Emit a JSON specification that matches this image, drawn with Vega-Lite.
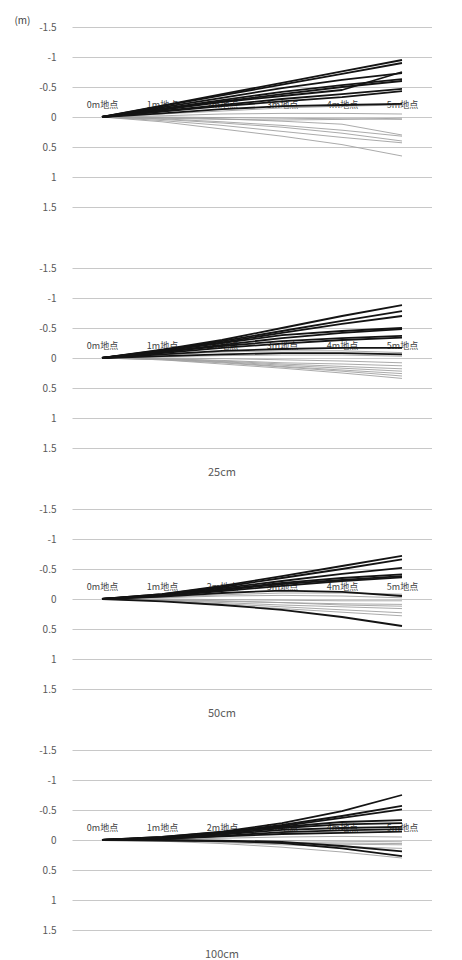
{
  "$schema": "https://vega.github.io/schema/vega-lite/v6.json",
  "background": "white",
  "padding": {"left": 13, "top": 15, "right": 0, "bottom": 0},
  "bounds": "flush",
  "spacing": 61,
  "datasets": {
    "lines": [
      {"p": "a", "id": "a10", "t": "light", "0m地点": 0, "1m地点": -0.05, "2m地点": -0.1, "3m地点": -0.15, "4m地点": -0.18, "5m地点": -0.2},
      {"p": "a", "id": "a11", "t": "light", "0m地点": 0, "1m地点": -0.02, "2m地点": -0.05, "3m地点": -0.06, "4m地点": -0.06, "5m地点": -0.05},
      {"p": "a", "id": "a12", "t": "light", "0m地点": 0, "1m地点": 0, "2m地点": 0.01, "3m地点": 0.02, "4m地点": 0.03, "5m地点": 0.04},
      {"p": "a", "id": "a13", "t": "light", "0m地点": 0, "1m地点": 0.02, "2m地点": 0.04, "3m地点": 0.05, "4m地点": 0.04, "5m地点": 0.02},
      {"p": "a", "id": "a14", "t": "light", "0m地点": 0, "1m地点": 0.03, "2m地点": 0.08, "3m地点": 0.14, "4m地点": 0.22, "5m地点": 0.32},
      {"p": "a", "id": "a15", "t": "light", "0m地点": 0, "1m地点": 0.04, "2m地点": 0.1, "3m地点": 0.17, "4m地点": 0.27, "5m地点": 0.4},
      {"p": "a", "id": "a16", "t": "light", "0m地点": 0, "1m地点": 0.06, "2m地点": 0.14, "3m地点": 0.24, "4m地点": 0.34, "5m地点": 0.43},
      {"p": "a", "id": "a17", "t": "light", "0m地点": 0, "1m地点": 0.08, "2m地点": 0.2, "3m地点": 0.32, "4m地点": 0.46, "5m地点": 0.65},
      {"p": "a", "id": "a18", "t": "light", "0m地点": 0, "1m地点": 0.01, "2m地点": 0.03, "3m地点": 0.07, "4m地点": 0.12, "5m地点": 0.3},
      {"p": "a", "id": "a1", "t": "dark", "0m地点": 0, "1m地点": -0.19, "2m地点": -0.38, "3m地点": -0.57, "4m地点": -0.76, "5m地点": -0.95},
      {"p": "a", "id": "a2", "t": "dark", "0m地点": 0, "1m地点": -0.18, "2m地点": -0.36, "3m地点": -0.54, "4m地点": -0.72, "5m地点": -0.9},
      {"p": "a", "id": "a3", "t": "dark", "0m地点": 0, "1m地点": -0.16, "2m地点": -0.32, "3m地点": -0.48, "4m地点": -0.62, "5m地点": -0.73},
      {"p": "a", "id": "a4", "t": "dark", "0m地点": 0, "1m地点": -0.12, "2m地点": -0.25, "3m地点": -0.35, "4m地点": -0.45, "5m地点": -0.75},
      {"p": "a", "id": "a5", "t": "dark", "0m地点": 0, "1m地点": -0.14, "2m地点": -0.28, "3m地点": -0.42, "4m地点": -0.53, "5m地点": -0.63},
      {"p": "a", "id": "a6", "t": "dark", "0m地点": 0, "1m地点": -0.13, "2m地点": -0.26, "3m地点": -0.38, "4m地点": -0.5, "5m地点": -0.6},
      {"p": "a", "id": "a7", "t": "dark", "0m地点": 0, "1m地点": -0.1, "2m地点": -0.2, "3m地点": -0.3, "4m地点": -0.38, "5m地点": -0.47},
      {"p": "a", "id": "a8", "t": "dark", "0m地点": 0, "1m地点": -0.09, "2m地点": -0.18, "3m地点": -0.26, "4m地点": -0.33, "5m地点": -0.43},
      {"p": "a", "id": "a9", "t": "dark", "0m地点": 0, "1m地点": -0.06, "2m地点": -0.13, "3m地点": -0.18, "4m地点": -0.2, "5m地点": -0.22},

      {"p": "b", "id": "b10", "t": "light", "0m地点": 0, "1m地点": -0.05, "2m地点": -0.1, "3m地点": -0.12, "4m地点": -0.12, "5m地点": -0.09},
      {"p": "b", "id": "b11", "t": "light", "0m地点": 0, "1m地点": -0.02, "2m地点": -0.04, "3m地点": -0.05, "4m地点": -0.05, "5m地点": -0.03},
      {"p": "b", "id": "b12", "t": "light", "0m地点": 0, "1m地点": 0, "2m地点": 0.01, "3m地点": 0.03, "4m地点": 0.05, "5m地点": 0.08},
      {"p": "b", "id": "b13", "t": "light", "0m地点": 0, "1m地点": 0.01, "2m地点": 0.04, "3m地点": 0.08, "4m地点": 0.1, "5m地点": 0.13},
      {"p": "b", "id": "b14", "t": "light", "0m地点": 0, "1m地点": 0.02, "2m地点": 0.06, "3m地点": 0.12, "4m地点": 0.17, "5m地点": 0.22},
      {"p": "b", "id": "b15", "t": "light", "0m地点": 0, "1m地点": 0.03, "2m地点": 0.08, "3m地点": 0.15, "4m地点": 0.22, "5m地点": 0.3},
      {"p": "b", "id": "b16", "t": "light", "0m地点": 0, "1m地点": 0.03, "2m地点": 0.1, "3m地点": 0.17, "4m地点": 0.25, "5m地点": 0.34},
      {"p": "b", "id": "b17", "t": "light", "0m地点": 0, "1m地点": 0.02, "2m地点": 0.07, "3m地点": 0.14, "4m地点": 0.2, "5m地点": 0.26},
      {"p": "b", "id": "b18", "t": "light", "0m地点": 0, "1m地点": 0.01, "2m地点": 0.05, "3m地点": 0.1, "4m地点": 0.14, "5m地点": 0.18},
      {"p": "b", "id": "b1", "t": "dark", "0m地点": 0, "1m地点": -0.14, "2m地点": -0.3, "3m地点": -0.5, "4m地点": -0.7, "5m地点": -0.88},
      {"p": "b", "id": "b2", "t": "dark", "0m地点": 0, "1m地点": -0.13, "2m地点": -0.28, "3m地点": -0.45, "4m地点": -0.62, "5m地点": -0.78},
      {"p": "b", "id": "b3", "t": "dark", "0m地点": 0, "1m地点": -0.12, "2m地点": -0.26, "3m地点": -0.42, "4m地点": -0.57, "5m地点": -0.7},
      {"p": "b", "id": "b4", "t": "dark", "0m地点": 0, "1m地点": -0.12, "2m地点": -0.25, "3m地点": -0.38, "4m地点": -0.45, "5m地点": -0.5},
      {"p": "b", "id": "b5", "t": "dark", "0m地点": 0, "1m地点": -0.1, "2m地点": -0.22, "3m地点": -0.33, "4m地点": -0.42, "5m地点": -0.48},
      {"p": "b", "id": "b6", "t": "dark", "0m地点": 0, "1m地点": -0.1, "2m地点": -0.2, "3m地点": -0.28, "4m地点": -0.33, "5m地点": -0.37},
      {"p": "b", "id": "b7", "t": "dark", "0m地点": 0, "1m地点": -0.08, "2m地点": -0.17, "3m地点": -0.24, "4m地点": -0.3, "5m地点": -0.34},
      {"p": "b", "id": "b8", "t": "dark", "0m地点": 0, "1m地点": -0.06, "2m地点": -0.12, "3m地点": -0.15, "4m地点": -0.17, "5m地点": -0.17},
      {"p": "b", "id": "b9", "t": "dark", "0m地点": 0, "1m地点": -0.03, "2m地点": -0.06, "3m地点": -0.08, "4m地点": -0.08, "5m地点": -0.06},

      {"p": "c", "id": "c10", "t": "light", "0m地点": 0, "1m地点": -0.02, "2m地点": -0.05, "3m地点": -0.06, "4m地点": -0.05, "5m地点": -0.02},
      {"p": "c", "id": "c11", "t": "light", "0m地点": 0, "1m地点": 0, "2m地点": 0.01, "3m地点": 0.02, "4m地点": 0.03, "5m地点": 0.03},
      {"p": "c", "id": "c12", "t": "light", "0m地点": 0, "1m地点": 0.02, "2m地点": 0.04, "3m地点": 0.06, "4m地点": 0.08, "5m地点": 0.09},
      {"p": "c", "id": "c13", "t": "light", "0m地点": 0, "1m地点": 0.02, "2m地点": 0.06, "3m地点": 0.1, "4m地点": 0.13, "5m地点": 0.16},
      {"p": "c", "id": "c14", "t": "light", "0m地点": 0, "1m地点": 0.03, "2m地点": 0.08, "3m地点": 0.13, "4m地点": 0.18, "5m地点": 0.23},
      {"p": "c", "id": "c15", "t": "light", "0m地点": 0, "1m地点": 0.03, "2m地点": 0.1, "3m地点": 0.16, "4m地点": 0.22, "5m地点": 0.28},
      {"p": "c", "id": "c16", "t": "light", "0m地点": 0, "1m地点": 0.01, "2m地点": 0.03, "3m地点": 0.06, "4m地点": 0.1, "5m地点": 0.12},
      {"p": "c", "id": "c17", "t": "light", "0m地点": 0, "1m地点": -0.03, "2m地点": -0.07, "3m地点": -0.1, "4m地点": -0.1, "5m地点": -0.08},
      {"p": "c", "id": "c1", "t": "dark", "0m地点": 0, "1m地点": -0.08, "2m地点": -0.22, "3m地点": -0.38, "4m地点": -0.55, "5m地点": -0.72},
      {"p": "c", "id": "c2", "t": "dark", "0m地点": 0, "1m地点": -0.08, "2m地点": -0.2, "3m地点": -0.35, "4m地点": -0.5, "5m地点": -0.66},
      {"p": "c", "id": "c3", "t": "dark", "0m地点": 0, "1m地点": -0.07, "2m地点": -0.18, "3m地点": -0.3, "4m地点": -0.42, "5m地点": -0.52},
      {"p": "c", "id": "c4", "t": "dark", "0m地点": 0, "1m地点": -0.06, "2m地点": -0.16, "3m地点": -0.27, "4m地点": -0.35, "5m地点": -0.41},
      {"p": "c", "id": "c5", "t": "dark", "0m地点": 0, "1m地点": -0.06, "2m地点": -0.15, "3m地点": -0.25, "4m地点": -0.32, "5m地点": -0.38},
      {"p": "c", "id": "c6", "t": "dark", "0m地点": 0, "1m地点": -0.05, "2m地点": -0.13, "3m地点": -0.22, "4m地点": -0.3, "5m地点": -0.36},
      {"p": "c", "id": "c7", "t": "dark", "0m地点": 0, "1m地点": -0.04, "2m地点": -0.1, "3m地点": -0.14, "4m地点": -0.12, "5m地点": -0.05},
      {"p": "c", "id": "c8", "t": "dark", "0m地点": 0, "1m地点": 0.04, "2m地点": 0.1, "3m地点": 0.18, "4m地点": 0.3, "5m地点": 0.45},

      {"p": "d", "id": "d11", "t": "light", "0m地点": 0, "1m地点": 0, "2m地点": 0.01, "3m地点": 0.01, "4m地点": 0.02, "5m地点": 0.03},
      {"p": "d", "id": "d12", "t": "light", "0m地点": 0, "1m地点": 0.01, "2m地点": 0.03, "3m地点": 0.05, "4m地点": 0.07, "5m地点": 0.08},
      {"p": "d", "id": "d13", "t": "light", "0m地点": 0, "1m地点": 0.01, "2m地点": 0.04, "3m地点": 0.08, "4m地点": 0.11, "5m地点": 0.14},
      {"p": "d", "id": "d14", "t": "light", "0m地点": 0, "1m地点": 0.02, "2m地点": 0.06, "3m地点": 0.12, "4m地点": 0.2, "5m地点": 0.3},
      {"p": "d", "id": "d15", "t": "light", "0m地点": 0, "1m地点": -0.01, "2m地点": -0.03, "3m地点": -0.05, "4m地点": -0.06, "5m地点": -0.05},
      {"p": "d", "id": "d16", "t": "light", "0m地点": 0, "1m地点": 0.01, "2m地点": 0.02, "3m地点": 0.04, "4m地点": 0.05, "5m地点": 0.06},
      {"p": "d", "id": "d1", "t": "dark", "0m地点": 0, "1m地点": -0.05, "2m地点": -0.14, "3m地点": -0.28, "4m地点": -0.48, "5m地点": -0.75},
      {"p": "d", "id": "d2", "t": "dark", "0m地点": 0, "1m地点": -0.05, "2m地点": -0.13, "3m地点": -0.25, "4m地点": -0.4, "5m地点": -0.57},
      {"p": "d", "id": "d3", "t": "dark", "0m地点": 0, "1m地点": -0.04, "2m地点": -0.12, "3m地点": -0.23, "4m地点": -0.37, "5m地点": -0.51},
      {"p": "d", "id": "d4", "t": "dark", "0m地点": 0, "1m地点": -0.04, "2m地点": -0.12, "3m地点": -0.22, "4m地点": -0.3, "5m地点": -0.33},
      {"p": "d", "id": "d5", "t": "dark", "0m地点": 0, "1m地点": -0.03, "2m地点": -0.1, "3m地点": -0.2, "4m地点": -0.26, "5m地点": -0.28},
      {"p": "d", "id": "d6", "t": "dark", "0m地点": 0, "1m地点": -0.03, "2m地点": -0.09, "3m地点": -0.17, "4m地点": -0.2, "5m地点": -0.22},
      {"p": "d", "id": "d7", "t": "dark", "0m地点": 0, "1m地点": -0.02, "2m地点": -0.07, "3m地点": -0.13, "4m地点": -0.16, "5m地点": -0.18},
      {"p": "d", "id": "d8", "t": "dark", "0m地点": 0, "1m地点": -0.02, "2m地点": -0.06, "3m地点": -0.1, "4m地点": -0.12, "5m地点": -0.14},
      {"p": "d", "id": "d9", "t": "dark", "0m地点": 0, "1m地点": 0, "2m地点": 0.01, "3m地点": 0.03, "4m地点": 0.1, "5m地点": 0.19},
      {"p": "d", "id": "d10", "t": "dark", "0m地点": 0, "1m地点": 0.01, "2m地点": 0.02, "3m地点": 0.05, "4m地点": 0.14, "5m地点": 0.27}
    ]
  },
  "vconcat": [
    {
      "width": 360, "height": 180,
      "data": {"name": "lines"},
      "transform": [{"filter": "datum.p === 'a'"}, {"fold": ["0m地点", "1m地点", "2m地点", "3m地点", "4m地点", "5m地点"], "as": ["pos", "v"]}],
      "mark": {"type": "line", "strokeJoin": "round"},
      "encoding": {
        "x": {"field": "pos", "type": "nominal", "sort": ["0m地点", "1m地点", "2m地点", "3m地点", "4m地点", "5m地点"], "scale": {"type": "point", "padding": 0.5},
          "axis": {"orient": "top", "offset": -90, "title": null, "domain": false, "ticks": false, "tickSize": 0, "labelPadding": 8, "labelAngle": 0, "labelFontSize": 9, "labelColor": "#404040", "labelOverlap": false, "grid": false}},
        "y": {"field": "v", "type": "quantitative", "scale": {"domain": [-1.5, 1.5], "reverse": true, "nice": false, "zero": false},
          "axis": {"values": [-1.5, -1, -0.5, 0, 0.5, 1, 1.5], "labelExpr": "'' + datum.value", "title": "(m)", "titleAngle": 0, "titleX": -50, "titleY": -7, "titleAlign": "center", "titleBaseline": "middle", "titleFontSize": 10, "titleFontWeight": "normal", "titleColor": "#404040"}},
        "color": {"field": "t", "type": "nominal", "scale": {"domain": ["light", "dark"], "range": ["#a0a0a0", "#141414"]}, "legend": null},
        "strokeWidth": {"field": "t", "type": "nominal", "scale": {"domain": ["light", "dark"], "range": [0.9, 1.8]}, "legend": null},
        "detail": {"field": "id", "type": "nominal"}
      }
    },
    {
      "width": 360, "height": 180,
      "title": {"text": "25cm", "orient": "bottom", "anchor": "middle", "dx": -30, "offset": 14},
      "data": {"name": "lines"},
      "transform": [{"filter": "datum.p === 'b'"}, {"fold": ["0m地点", "1m地点", "2m地点", "3m地点", "4m地点", "5m地点"], "as": ["pos", "v"]}],
      "mark": {"type": "line", "strokeJoin": "round"},
      "encoding": {
        "x": {"field": "pos", "type": "nominal", "sort": ["0m地点", "1m地点", "2m地点", "3m地点", "4m地点", "5m地点"], "scale": {"type": "point", "padding": 0.5},
          "axis": {"orient": "top", "offset": -90, "title": null, "domain": false, "ticks": false, "tickSize": 0, "labelPadding": 8, "labelAngle": 0, "labelFontSize": 9, "labelColor": "#404040", "labelOverlap": false, "grid": false}},
        "y": {"field": "v", "type": "quantitative", "scale": {"domain": [-1.5, 1.5], "reverse": true, "nice": false, "zero": false},
          "axis": {"values": [-1.5, -1, -0.5, 0, 0.5, 1, 1.5], "labelExpr": "'' + datum.value", "title": null}},
        "color": {"field": "t", "type": "nominal", "scale": {"domain": ["light", "dark"], "range": ["#a0a0a0", "#141414"]}, "legend": null},
        "strokeWidth": {"field": "t", "type": "nominal", "scale": {"domain": ["light", "dark"], "range": [0.9, 1.8]}, "legend": null},
        "detail": {"field": "id", "type": "nominal"}
      }
    },
    {
      "width": 360, "height": 180,
      "title": {"text": "50cm", "orient": "bottom", "anchor": "middle", "dx": -30, "offset": 14},
      "data": {"name": "lines"},
      "transform": [{"filter": "datum.p === 'c'"}, {"fold": ["0m地点", "1m地点", "2m地点", "3m地点", "4m地点", "5m地点"], "as": ["pos", "v"]}],
      "mark": {"type": "line", "strokeJoin": "round"},
      "encoding": {
        "x": {"field": "pos", "type": "nominal", "sort": ["0m地点", "1m地点", "2m地点", "3m地点", "4m地点", "5m地点"], "scale": {"type": "point", "padding": 0.5},
          "axis": {"orient": "top", "offset": -90, "title": null, "domain": false, "ticks": false, "tickSize": 0, "labelPadding": 8, "labelAngle": 0, "labelFontSize": 9, "labelColor": "#404040", "labelOverlap": false, "grid": false}},
        "y": {"field": "v", "type": "quantitative", "scale": {"domain": [-1.5, 1.5], "reverse": true, "nice": false, "zero": false},
          "axis": {"values": [-1.5, -1, -0.5, 0, 0.5, 1, 1.5], "labelExpr": "'' + datum.value", "title": null}},
        "color": {"field": "t", "type": "nominal", "scale": {"domain": ["light", "dark"], "range": ["#a0a0a0", "#141414"]}, "legend": null},
        "strokeWidth": {"field": "t", "type": "nominal", "scale": {"domain": ["light", "dark"], "range": [0.9, 1.8]}, "legend": null},
        "detail": {"field": "id", "type": "nominal"}
      }
    },
    {
      "width": 360, "height": 180,
      "title": {"text": "100cm", "orient": "bottom", "anchor": "middle", "dx": -30, "offset": 14},
      "data": {"name": "lines"},
      "transform": [{"filter": "datum.p === 'd'"}, {"fold": ["0m地点", "1m地点", "2m地点", "3m地点", "4m地点", "5m地点"], "as": ["pos", "v"]}],
      "mark": {"type": "line", "strokeJoin": "round"},
      "encoding": {
        "x": {"field": "pos", "type": "nominal", "sort": ["0m地点", "1m地点", "2m地点", "3m地点", "4m地点", "5m地点"], "scale": {"type": "point", "padding": 0.5},
          "axis": {"orient": "top", "offset": -90, "title": null, "domain": false, "ticks": false, "tickSize": 0, "labelPadding": 8, "labelAngle": 0, "labelFontSize": 9, "labelColor": "#404040", "labelOverlap": false, "grid": false}},
        "y": {"field": "v", "type": "quantitative", "scale": {"domain": [-1.5, 1.5], "reverse": true, "nice": false, "zero": false},
          "axis": {"values": [-1.5, -1, -0.5, 0, 0.5, 1, 1.5], "labelExpr": "'' + datum.value", "title": null}},
        "color": {"field": "t", "type": "nominal", "scale": {"domain": ["light", "dark"], "range": ["#a0a0a0", "#141414"]}, "legend": null},
        "strokeWidth": {"field": "t", "type": "nominal", "scale": {"domain": ["light", "dark"], "range": [0.9, 1.8]}, "legend": null},
        "detail": {"field": "id", "type": "nominal"}
      }
    }
  ],
  "resolve": {"scale": {"color": "shared", "strokeWidth": "shared"}},
  "config": {
    "view": {"stroke": null},
    "font": "Noto Sans CJK JP",
    "axis": {"labelFont": "Noto Sans CJK JP", "titleFont": "Noto Sans CJK JP"},
    "axisY": {"grid": true, "gridColor": "#c8c8c8", "gridWidth": 1, "domain": false, "ticks": false, "labelPadding": 16, "labelFontSize": 10, "labelColor": "#595959"},
    "title": {"font": "Noto Sans CJK JP", "fontSize": 11, "fontWeight": "normal", "color": "#595959"}
  }
}
